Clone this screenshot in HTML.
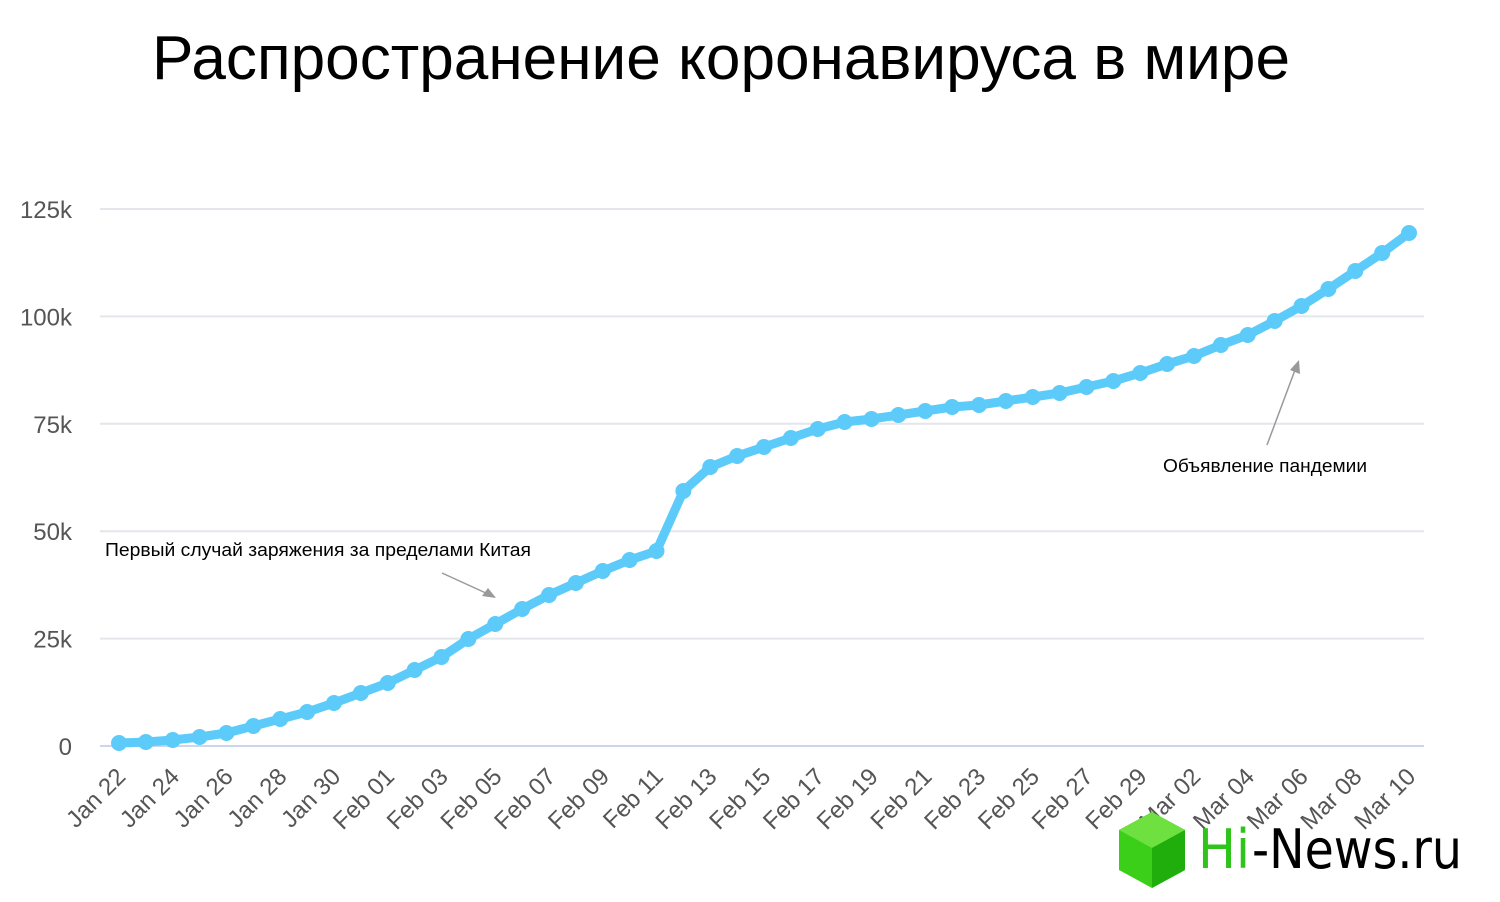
<!DOCTYPE html>
<html><head><meta charset="utf-8"><style>
html,body{margin:0;padding:0;background:#fff;width:1500px;height:902px;overflow:hidden}
svg{display:block}
</style></head><body>
<svg id="s" width="1500" height="902" xmlns="http://www.w3.org/2000/svg" font-family="Liberation Sans, sans-serif">
<text x="152" y="79" font-size="62" fill="#000" textLength="1138" lengthAdjust="spacingAndGlyphs">Распространение коронавируса в мире</text>
<g id="grid" stroke="#e3e6ea" stroke-width="2"></g>
<g id="ylab" font-size="24" fill="#555" text-anchor="end"></g>
<g id="xlab" font-size="24" fill="#555" text-anchor="end"></g>
<polyline id="line" fill="none" stroke="#5ccbf9" stroke-width="9" stroke-linejoin="round"/>
<g id="dots" fill="#5ccbf9"></g>
<text x="105" y="556" font-size="18" fill="#000" textLength="426" lengthAdjust="spacingAndGlyphs">Первый случай заряжения за пределами Китая</text>
<line x1="442" y1="573" x2="488" y2="594" stroke="#999" stroke-width="1.5"/>
<polygon points="496,598 482,596 488,588" fill="#999"/>
<text x="1163" y="472" font-size="18" fill="#000" textLength="204" lengthAdjust="spacingAndGlyphs">Объявление пандемии</text>
<line x1="1267" y1="445" x2="1295" y2="370" stroke="#999" stroke-width="1.5"/>
<polygon points="1299,360 1300,374 1290,370" fill="#999"/>
<g transform="translate(1117,812)">
<polygon points="35,0 68,18 68,58 35,76 2,58 2,18" fill="#3ccf1a"/>
<polygon points="35,0 68,18 35,36 2,18" fill="#6ee040"/>
<polygon points="35,36 68,18 68,58 35,76" fill="#1fae0c"/>
</g>
<text x="1198" y="868" font-size="54" fill="#2fc41a" font-family="DejaVu Sans, sans-serif" textLength="52" lengthAdjust="spacingAndGlyphs">Hi</text>
<text x="1252" y="868" font-size="54" fill="#000" font-family="DejaVu Sans, sans-serif" textLength="210" lengthAdjust="spacingAndGlyphs">-News.ru</text>
</svg>
<script>
var ys=[743,742,740,737,733,726,719,712,703,693,683,670,657,639,624,609,595,583,571,560,551,491,467,456,447,438,429,422,419,415,411,407,405,401,397,393,387,381,373,364,356,345,335,321,306,289,271,253,233];
var ns="http://www.w3.org/2000/svg";
function el(t,a,p,txt){var e=document.createElementNS(ns,t);for(var k in a)e.setAttribute(k,a[k]);if(txt)e.textContent=txt;document.getElementById(p).appendChild(e);}
var yl=["0","25k","50k","75k","100k","125k"];
for(var i=0;i<6;i++){var y=746-i*107.4;el("line",{x1:100,x2:1424,y1:y,y2:y,stroke:i==0?"#ccd6eb":"#e3e6ea"},"grid");el("text",{x:72,y:y+9},"ylab",yl[i]);}
var pts=[];
for(var i=0;i<ys.length;i++){var x=119+i*26.875;pts.push(x+","+ys[i]);el("circle",{cx:x,cy:ys[i],r:8},"dots");}
document.getElementById("line").setAttribute("points",pts.join(" "));
var labs=["Jan 22","Jan 24","Jan 26","Jan 28","Jan 30","Feb 01","Feb 03","Feb 05","Feb 07","Feb 09","Feb 11","Feb 13","Feb 15","Feb 17","Feb 19","Feb 21","Feb 23","Feb 25","Feb 27","Feb 29","Mar 02","Mar 04","Mar 06","Mar 08","Mar 10"];
for(var i=0;i<labs.length;i++){var x=119+i*2*26.875+8;el("text",{x:x,y:778,transform:"rotate(-45 "+x+" 778)"},"xlab",labs[i]);}
</script>
</body></html>
